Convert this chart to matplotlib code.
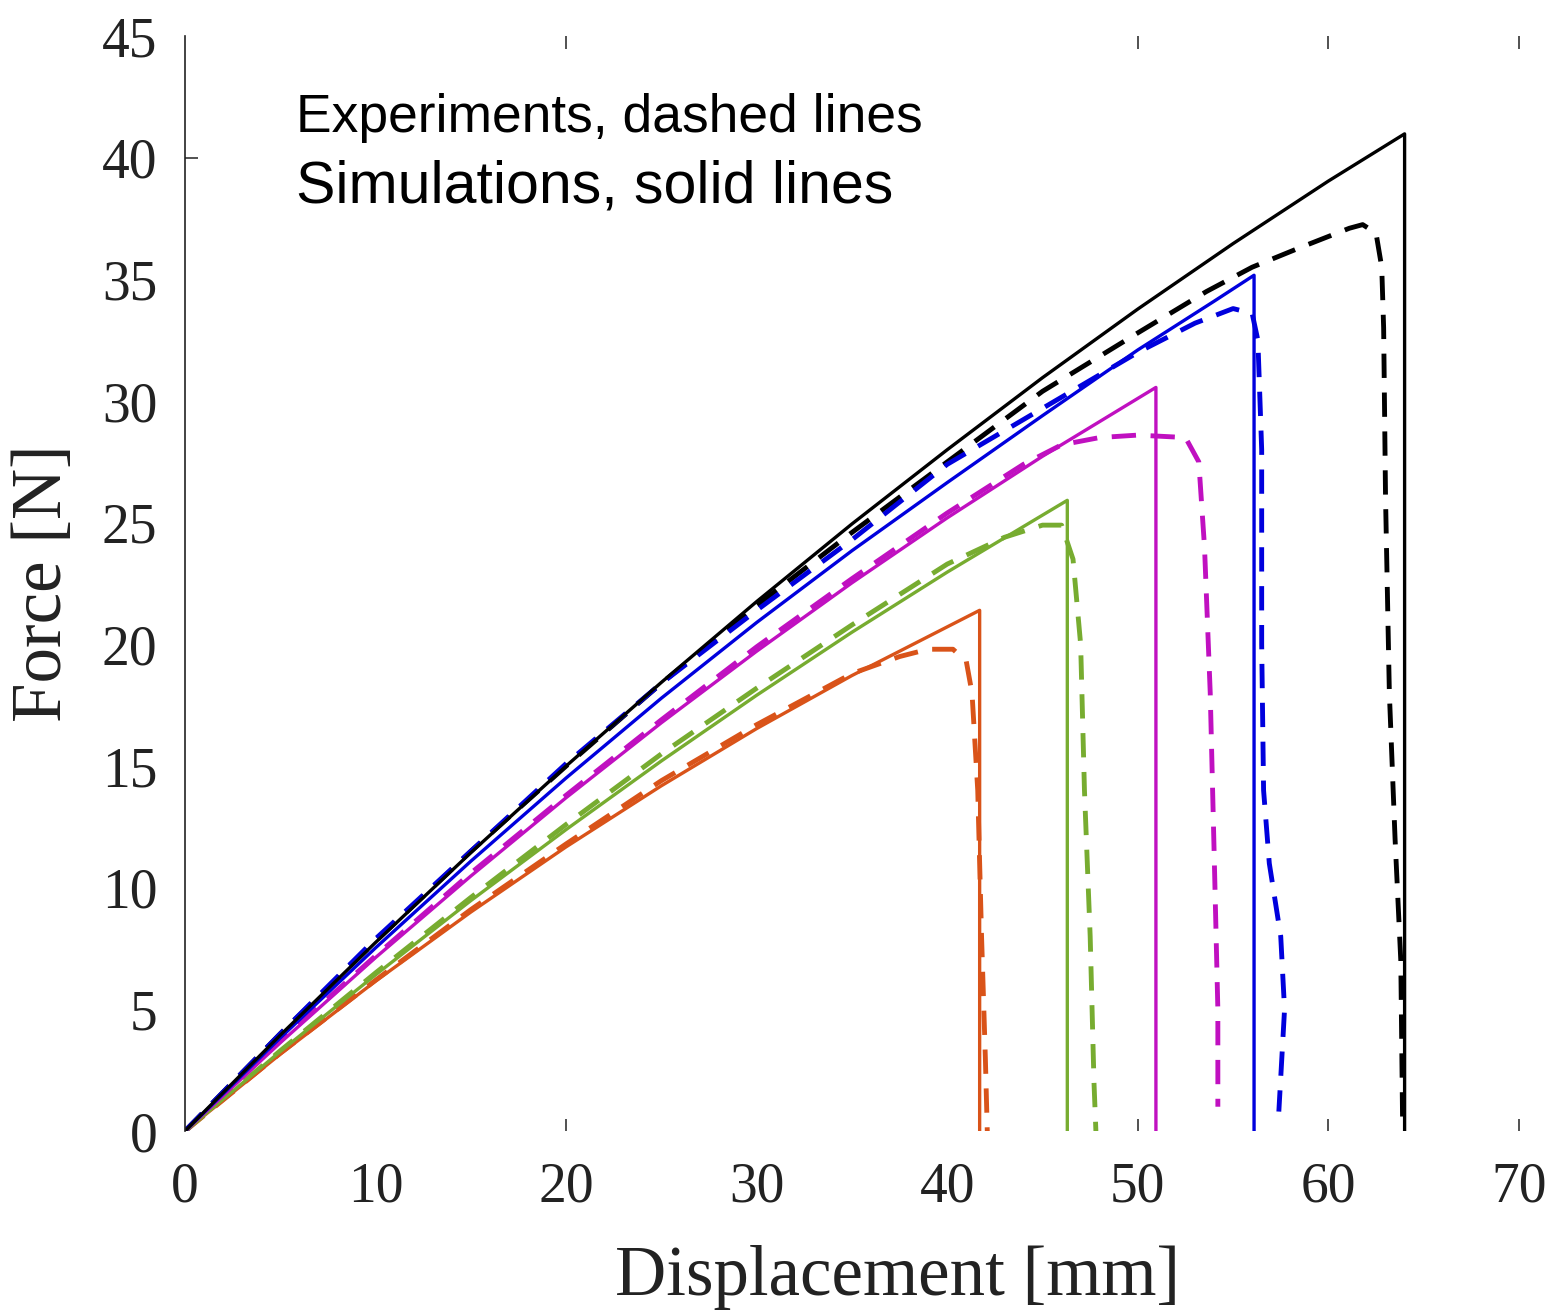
import matplotlib.pyplot as plt

# simulations (solid lines)
sim_black_x = [0, 5, 10, 15, 20, 25, 30, 35, 40, 45, 50, 55, 60, 64, 64]
sim_black_y = [0, 3.94, 7.75, 11.44, 15.0, 18.44, 21.76, 24.95, 28.0, 30.96, 33.78, 36.47, 39.04, 40.98, 0]
sim_blue_x = [0, 5, 10, 15, 20, 25, 30, 35, 40, 45, 50, 54, 56.1, 56.1]
sim_blue_y = [0, 3.83, 7.53, 11.09, 14.51, 17.79, 20.9, 23.85, 26.65, 29.4, 32.1, 34.1, 35.17, 0]
sim_mag_x = [0, 5, 10, 15, 20, 25, 30, 35, 40, 45, 50.95, 50.95]
sim_mag_y = [0, 3.63, 7.13, 10.48, 13.7, 16.78, 19.72, 22.53, 25.2, 27.73, 30.56, 0]
sim_green_x = [0, 5, 10, 15, 20, 25, 30, 35, 40, 46.3, 46.3]
sim_green_y = [0, 3.27, 6.42, 9.47, 12.39, 15.21, 17.91, 20.5, 22.97, 25.92, 0]
sim_orange_x = [0, 5, 10, 15, 20, 25, 30, 35, 41.7, 41.7]
sim_orange_y = [0, 3.16, 6.16, 9.0, 11.68, 14.19, 16.54, 18.72, 21.4, 0]

# experiments (dashed lines)
exp_black_x = [0, 5, 10, 15, 20, 25, 30, 35, 40, 45, 50, 53.6, 56, 58.5, 61.1, 61.8, 62.5, 62.8, 62.9, 63.0, 63.2, 63.5, 63.8, 63.9]
exp_black_y = [0, 4.0, 7.8, 11.5, 15.0, 18.4, 21.6, 24.6, 27.5, 30.4, 32.8, 34.5, 35.5, 36.3, 37.1, 37.25, 36.9, 35.5, 33, 26, 18, 12, 7, 0]
exp_blue_x = [0, 5, 10, 15, 20, 25, 30, 35, 40, 45, 50, 53, 55, 56.0, 56.3, 56.5, 56.5, 56.6, 56.9, 57.5, 57.7, 57.4]
exp_blue_y = [0, 4.0, 7.9, 11.5, 15.1, 18.4, 21.4, 24.3, 27.4, 29.7, 32.0, 33.2, 33.8, 33.6, 32.5, 28, 20, 14, 11, 8, 5, 0.8]
exp_mag_x = [0, 5, 10, 15, 20, 25, 30, 35, 40, 44, 46, 48, 50, 52.5, 53.2, 53.5, 53.8, 54.0, 54.2, 54.2]
exp_mag_y = [0, 3.7, 7.2, 10.6, 13.8, 16.9, 19.9, 22.7, 25.4, 27.4, 28.2, 28.5, 28.6, 28.5, 27.5, 24, 18, 11.6, 5, 1.0]
exp_green_x = [0, 5, 10, 15, 20, 25, 30, 35, 40, 43, 45, 46, 46.6, 47.0, 47.2, 47.5, 47.7, 47.8]
exp_green_y = [0, 3.3, 6.5, 9.6, 12.6, 15.5, 18.2, 20.8, 23.3, 24.4, 24.9, 24.9, 23.5, 20, 14, 8, 2, 0]
exp_orange_x = [0, 5, 10, 15, 20, 25, 30, 35, 37.5, 39, 40.3, 41.0, 41.3, 41.6, 41.8, 42.0, 42.1]
exp_orange_y = [0, 3.2, 6.2, 9.1, 11.8, 14.4, 16.7, 18.8, 19.5, 19.8, 19.8, 19.3, 18, 14, 8, 3, 0]

x_ticks = [0, 10, 20, 30, 40, 50, 60, 70]
y_ticks = [0, 5, 10, 15, 20, 25, 30, 35, 40, 45]

c_black = '#000000'
c_blue = '#0000dd'
c_mag = '#c010c0'
c_green = '#77ac30'
c_orange = '#d95319'

fig = plt.figure(figsize=(15.52, 13.10), dpi=100)
ax = fig.add_axes([0.1192, 0.1366, 0.8595, 0.8359])

dash = (0, (5, 3))
lw_e = 3.5
lw_s = 2.4
ax.plot(exp_orange_x, exp_orange_y, color=c_orange, lw=lw_e, linestyle=dash)
ax.plot(exp_green_x, exp_green_y, color=c_green, lw=lw_e, linestyle=dash)
ax.plot(exp_mag_x, exp_mag_y, color=c_mag, lw=lw_e, linestyle=dash)
ax.plot(exp_black_x, exp_black_y, color=c_black, lw=lw_e, linestyle=dash)
ax.plot(exp_blue_x, exp_blue_y, color=c_blue, lw=lw_e, linestyle=dash)

ax.plot(sim_orange_x, sim_orange_y, color=c_orange, lw=lw_s)
ax.plot(sim_green_x, sim_green_y, color=c_green, lw=lw_s)
ax.plot(sim_mag_x, sim_mag_y, color=c_mag, lw=lw_s)
ax.plot(sim_blue_x, sim_blue_y, color=c_blue, lw=lw_s)
ax.plot(sim_black_x, sim_black_y, color=c_black, lw=lw_s)

ax.set_xlim(0, 70)
ax.set_ylim(0, 45)
ax.set_xticks(x_ticks)
ax.set_yticks(y_ticks)

for s in ['top', 'right', 'bottom']:
    ax.spines[s].set_visible(False)
ax.spines['left'].set_color('#222222')
ax.spines['left'].set_linewidth(1.2)

serif = 'Liberation Serif'
ax.tick_params(axis='both', direction='in', length=9, width=1.2, color='#333333',
               labelsize=40, labelcolor='#222222')
ax.tick_params(axis='x', top=True, pad=22)
ax.tick_params(axis='y', pad=20)
for lab in ax.get_xticklabels() + ax.get_yticklabels():
    lab.set_fontfamily(serif)

# only some tick marks survive in the original
for t, v in zip(ax.xaxis.get_major_ticks(), x_ticks):
    if v not in (20, 50, 60, 70):
        t.tick1line.set_visible(False)
        t.tick2line.set_visible(False)
for t, v in zip(ax.yaxis.get_major_ticks(), y_ticks):
    if v != 40:
        t.tick1line.set_visible(False)

ax.set_xlabel('Displacement [mm]', fontsize=51, family=serif, color='#222222')
ax.set_ylabel('Force [N]', fontsize=51, family=serif, color='#222222')
ax.xaxis.set_label_coords(0.534, -0.104)
ax.yaxis.set_label_coords(-0.082, 0.5)

ax.text(5.82, 41.06, 'Experiments, dashed lines', fontsize=38.4,
        family='Liberation Sans', va='baseline', ha='left')
ax.text(5.82, 38.14, 'Simulations, solid lines', fontsize=42.5,
        family='Liberation Sans', va='baseline', ha='left')

fig.savefig('out.png', dpi=100)
